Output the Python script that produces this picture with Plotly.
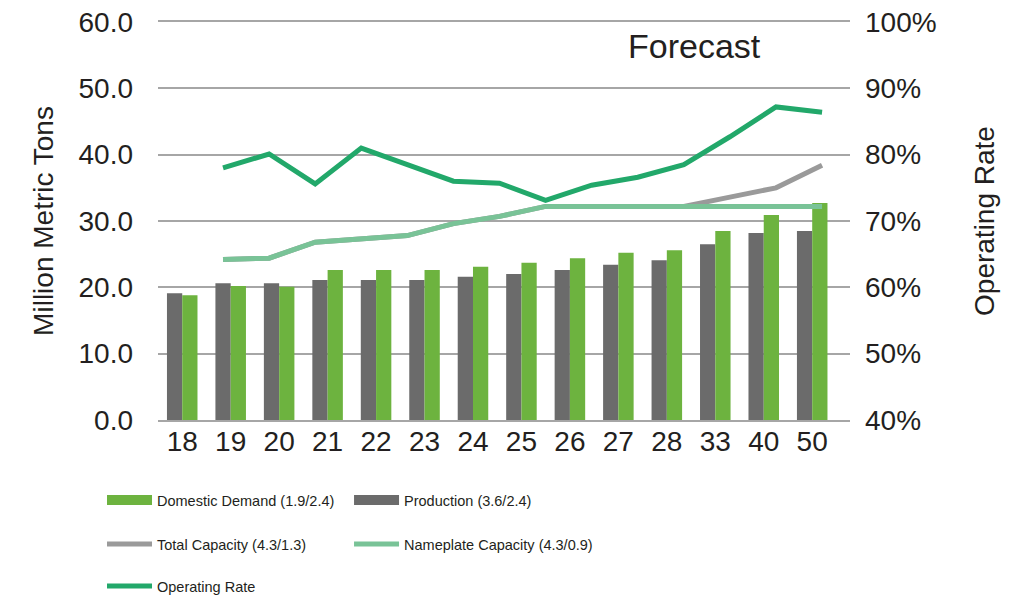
import plotly.graph_objects as go

categories = ['18', '19', '20', '21', '22', '23', '24', '25', '26', '27', '28', '33', '40', '50']
production = [19.1, 20.6, 20.6, 21.1, 21.1, 21.1, 21.6, 22.0, 22.6, 23.4, 24.1, 26.5, 28.2, 28.5]
domestic_demand = [18.8, 20.2, 20.1, 22.6, 22.6, 22.6, 23.1, 23.7, 24.4, 25.2, 25.6, 28.5, 30.9, 32.7]
total_capacity = [24.2, 24.4, 26.8, 27.3, 27.8, 29.6, 30.7, 32.2, 32.2, 32.2, 32.2, 33.6, 35.0, 38.4]
nameplate_capacity = [24.2, 24.4, 26.8, 27.3, 27.8, 29.6, 30.7, 32.2, 32.2, 32.2, 32.2, 32.2, 32.2, 32.2]
operating_rate = [78.0, 80.1, 75.6, 81.0, 78.5, 76.0, 75.7, 73.1, 75.4, 76.6, 78.5, 82.7, 87.2, 86.4]

left_ticks = [0, 10, 20, 30, 40, 50, 60]
left_labels = ['0.0', '10.0', '20.0', '30.0', '40.0', '50.0', '60.0']
right_ticks = [40, 50, 60, 70, 80, 90, 100]
right_labels = ['40%', '50%', '60%', '70%', '80%', '90%', '100%']

C_DEMAND = '#6DB33F'
C_PROD = '#6B6B6B'
C_TOTAL = '#9A9A9A'
C_NAME = '#79C397'
C_RATE = '#22A86A'
GRID = '#A6A6A6'
TXT = '#231F20'
FONT = 'Liberation Sans, Arial, sans-serif'
TICK = 28

fig = go.Figure()

# bars
fig.add_trace(go.Bar(x=categories, y=production, name='Production (3.6/2.4)',
                     marker=dict(color=C_PROD, line=dict(width=0)), showlegend=False))
fig.add_trace(go.Bar(x=categories, y=domestic_demand, name='Domestic Demand (1.9/2.4)',
                     marker=dict(color=C_DEMAND, line=dict(width=0)), showlegend=False))

# lines
fig.add_trace(go.Scatter(x=categories, y=total_capacity, xaxis='x2', yaxis='y', mode='lines',
                         line=dict(color=C_TOTAL, width=5), name='Total Capacity (4.3/1.3)',
                         legend='legend3'))
fig.add_trace(go.Scatter(x=categories, y=nameplate_capacity, xaxis='x2', yaxis='y', mode='lines',
                         line=dict(color=C_NAME, width=5), name='Nameplate Capacity (4.3/0.9)',
                         legend='legend4'))
fig.add_trace(go.Scatter(x=categories, y=operating_rate, xaxis='x2', yaxis='y2', mode='lines',
                         line=dict(color=C_RATE, width=5), name='Operating Rate',
                         legend='legend5'))

# legend-only entries for bars (wide rectangle look)
fig.add_trace(go.Scatter(x=[None], y=[None], mode='lines', line=dict(color=C_DEMAND, width=13),
                         name='Domestic Demand (1.9/2.4)', legend='legend'))
fig.add_trace(go.Scatter(x=[None], y=[None], mode='lines', line=dict(color=C_PROD, width=13),
                         name='Production (3.6/2.4)', legend='legend2'))

def leg(x, y):
    return dict(orientation='h', x=x, y=y, xref='container', yref='container',
                xanchor='left', yanchor='middle',
                font=dict(family=FONT, size=14.5, color=TXT),
                itemwidth=45, bgcolor='rgba(0,0,0,0)')

COL1, COL2 = 0.1008, 0.3449
ROW1, ROW2, ROW3 = 0.1667, 0.0933, 0.0233

fig.update_layout(
    width=1012, height=600,
    margin=dict(l=158, r=162, t=22, b=180),
    paper_bgcolor='white', plot_bgcolor='white',
    barmode='group', bargap=0.37, bargroupgap=0,
    font=dict(family=FONT, color=TXT),
    xaxis=dict(type='category', categoryorder='array', categoryarray=categories,
               range=[-0.5, 13.78], showgrid=False, showline=True, mirror=True,
               linecolor=GRID, linewidth=1.5, ticks='', tickfont=dict(size=TICK, color=TXT),
               ticklabelstandoff=-4, zeroline=False, automargin=False),
    xaxis2=dict(type='category', categoryorder='array', categoryarray=categories,
                overlaying='x', anchor='y', range=[-1.411, 13.606], visible=False,
                automargin=False),
    yaxis=dict(range=[0, 60], tickvals=left_ticks, ticktext=left_labels, showgrid=True,
               gridcolor=GRID, gridwidth=1.5, zeroline=False, showline=False, ticks='',
               tickfont=dict(size=TICK, color=TXT), ticklabelstandoff=24, automargin=False,
               title=dict(text='Million Metric Tons', font=dict(size=TICK, color=TXT), standoff=16)),
    yaxis2=dict(range=[40, 100], tickvals=right_ticks, ticktext=right_labels, overlaying='y',
                side='right', showgrid=False, zeroline=False, showline=False, ticks='',
                tickfont=dict(size=TICK, color=TXT), ticklabelstandoff=14, automargin=False,
                title=dict(text='Operating Rate', font=dict(size=TICK, color=TXT), standoff=38)),
    legend=leg(COL1, ROW1),
    legend2=leg(COL2, ROW1),
    legend3=leg(COL1, ROW2),
    legend4=leg(COL2, ROW2),
    legend5=leg(COL1, ROW3),
    annotations=[dict(text='Forecast', x=0.775, y=0.94, xref='paper', yref='paper',
                      xanchor='center', yanchor='middle',
                      showarrow=False, font=dict(size=34, color=TXT, family=FONT))],
)

fig.write_html('out.html', config={'displayModeBar': False},
               post_script="document.body.style.margin='0px';")
